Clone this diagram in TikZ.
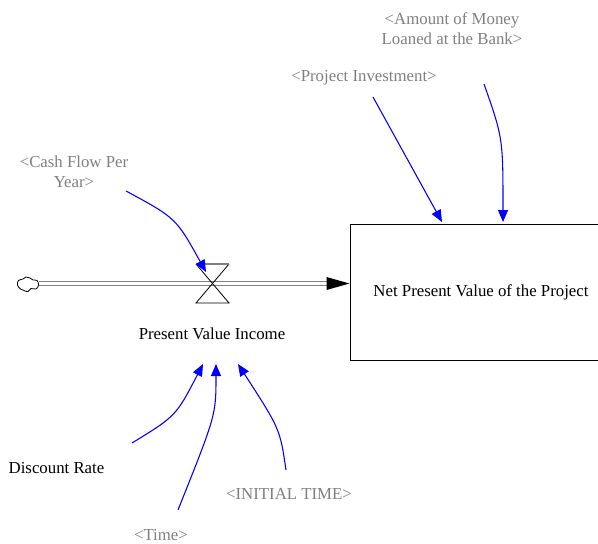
\documentclass[tikz,border=0pt]{standalone}
\usepackage{fontspec}
\setmainfont{Liberation Serif}
\usetikzlibrary{arrows.meta}
\definecolor{shadow}{RGB}{128,128,128}
\definecolor{linkblue}{RGB}{0,0,255}
\tikzset{
  lbl/.style={font=\fontsize{12.6pt}{15pt}\selectfont, align=center, inner sep=0pt},
  shadowlbl/.style={lbl, text=shadow},
  link/.style={draw=linkblue, line width=0.8pt, -{Triangle[length=9pt,width=7.5pt]}},
  pipe/.style={draw=shadow, line width=1.05pt, double=white, double distance=1.95pt},
  stockbox/.style={draw=black, line width=0.75pt, minimum width=196.5pt, minimum height=102pt, inner sep=0pt}
}
\begin{document}
\begin{tikzpicture}[x=0.75pt,y=-0.75pt]
\path[use as bounding box] (0,0) rectangle (598,543);
\clip (0,0) rectangle (598,543);
% stock
\node[stockbox] (stock) at (481,292) {};
\node[lbl] (stocklbl) at (481,292) {Net Present Value of the Project};
% cloud
\draw[line width=0.6pt] plot[smooth cycle, tension=0.7] coordinates {(17.5,285) (18.5,280.5) (23,279) (26,277) (30,278) (33,280) (37,280.5) (38.5,285) (36,289) (31,288.5) (28,291.5) (24,290.5) (20.5,289)};
\coordinate (cloud) at (38.5,283.5);
% pipe
\coordinate (pipeend) at (328,283.5);
\draw[pipe] (cloud) -- (pipeend);
\fill[black] (stock.west |- pipeend) -- ++(-23,-6.5) -- ++(0,13) -- cycle;
% valve
\coordinate (valve) at (212.5,283.5);
\draw[line width=0.6pt] (196,264) -- (229,303) -- (196,303) -- (229,264);
\draw[line width=0.9pt, draw=shadow] (196,264) -- (229,264);
\node[lbl] (flowlbl) at (212,334) {Present Value Income};
% labels
\node[shadowlbl] (amount) at (452,29) {<Amount of Money\\Loaned at the Bank>};
\node[shadowlbl] (invest) at (364,78) {<Project Investment>};
\node[shadowlbl] (cash) at (74,172) {<Cash Flow Per\\Year>};
\node[lbl] (disc) at (56.5,468) {Discount Rate};
\node[shadowlbl] (init) at (289,494) {<INITIAL TIME>};
\node[shadowlbl] (time) at (161,535) {<Time>};
% link endpoints
\coordinate (cashS) at (126,191);
\coordinate (cashE) at (206,272);
\coordinate (invS) at (373,97);
\coordinate (invE) at (442,222);
\coordinate (amtS) at (484,84);
\coordinate (amtE) at (503,222);
\coordinate (discS) at (132,443);
\coordinate (discE) at (203,364);
\coordinate (timeS) at (178,510);
\coordinate (timeE) at (216,364);
\coordinate (initS) at (286,470);
\coordinate (initE) at (238,364);
% links
\draw[link] (cashS) .. controls (176,218) .. (cashE);
\draw[link] (invS) -- (invE);
\draw[link] (amtS) .. controls (503,138) .. (amtE);
\draw[link] (discS) .. controls (176,416) .. (discE);
\draw[link] (timeS) .. controls (216,415) .. (timeE);
\draw[link] (initS) .. controls (280,429) .. (initE);
\end{tikzpicture}
\end{document}
